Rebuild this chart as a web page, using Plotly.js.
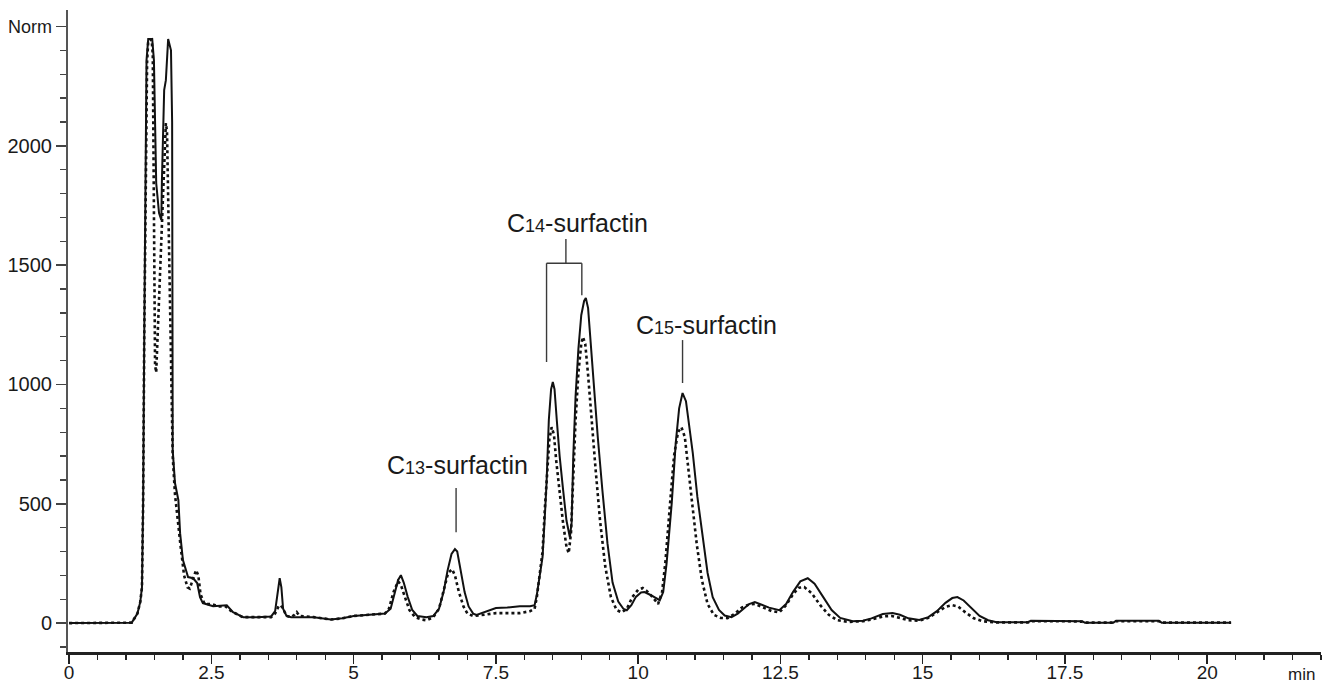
<!DOCTYPE html>
<html>
<head>
<meta charset="utf-8">
<script src="https://cdn.plot.ly/plotly-3.0.1.min.js"></script>
<style>html,body{margin:0;padding:0;background:#fff;}#chart{width:1330px;height:684px;}</style>
</head>
<body>
<div id="chart"></div>
<script>
// Retention time (min) and normalised signal for the solid trace
const solidTime = [0,0.5,1.0,1.1,1.2,1.25,1.28,1.30,1.32,1.34,1.36,1.39,1.46,1.49,1.53,1.58,1.62,1.63,1.67,1.70,1.74,1.79,1.81,1.82,1.86,1.92,1.95,2.00,2.09,2.18,2.25,2.30,2.35,2.53,2.77,2.88,3.06,3.3,3.55,3.62,3.66,3.70,3.73,3.76,3.82,3.9,4.0,4.3,4.6,4.8,5.0,5.3,5.55,5.65,5.72,5.78,5.83,5.88,5.95,6.03,6.12,6.28,6.4,6.5,6.58,6.65,6.72,6.78,6.82,6.88,6.95,7.02,7.1,7.16,7.3,7.5,7.7,7.92,8.1,8.18,8.22,8.27,8.32,8.36,8.39,8.43,8.47,8.50,8.53,8.57,8.62,8.68,8.74,8.80,8.83,8.86,8.90,8.95,9.00,9.05,9.08,9.12,9.17,9.23,9.29,9.37,9.46,9.55,9.65,9.74,9.80,9.88,9.96,10.05,10.11,10.2,10.3,10.38,10.44,10.50,10.59,10.66,10.72,10.78,10.84,10.90,10.96,11.04,11.13,11.22,11.31,11.42,11.52,11.64,11.75,11.85,11.95,12.05,12.15,12.3,12.48,12.6,12.72,12.85,12.98,13.1,13.25,13.4,13.55,13.77,13.95,14.1,14.3,14.47,14.6,14.75,14.94,15.1,15.25,15.4,15.52,15.61,15.72,15.85,16.0,16.15,16.3,16.5,16.85,16.9,17.5,17.8,17.85,18.35,18.4,19.15,19.2,20.42];
const solidSignal = [0,0,0,2,40,89,150,500,1200,1900,2359,2447,2447,2359,1844,1718,1689,1848,2233,2275,2447,2400,2099,725,587,515,377,264,193,188,168,109,84,71,75,46,25,25,28,50,120,188,150,60,30,25,25,25,15,20,30,35,40,60,120,180,201,170,110,55,30,25,30,60,130,220,290,310,300,220,130,70,40,34,45,63,65,71,71,75,120,200,277,450,587,851,980,1010,980,850,700,560,430,360,420,700,950,1150,1290,1350,1362,1320,1150,960,780,560,335,170,90,60,54,75,110,128,130,120,105,96,130,251,503,754,900,964,930,830,712,530,360,210,109,55,32,25,40,62,80,88,80,65,54,80,130,175,188,165,110,55,22,8,10,20,38,42,35,20,13,25,50,85,105,109,95,65,30,12,4,4,4,10,10,8,2,2,10,10,2,2];

// Retention time (min) and normalised signal for the dotted trace
const dottedTime = [0,1.0,1.1,1.2,1.25,1.28,1.30,1.32,1.35,1.37,1.39,1.45,1.47,1.48,1.49,1.50,1.51,1.53,1.56,1.60,1.64,1.68,1.70,1.72,1.74,1.76,1.79,1.82,1.86,1.90,1.96,2.02,2.08,2.12,2.18,2.23,2.27,2.31,2.38,2.5,2.62,2.75,2.85,3.05,3.3,3.55,3.62,3.68,3.72,3.76,3.82,3.9,3.96,4.0,4.05,4.3,4.6,4.8,5.0,5.3,5.55,5.62,5.70,5.78,5.83,5.90,5.98,6.08,6.2,6.28,6.4,6.5,6.58,6.66,6.73,6.78,6.85,6.93,7.0,7.1,7.3,7.5,7.7,7.92,8.1,8.18,8.22,8.27,8.32,8.36,8.40,8.44,8.48,8.52,8.56,8.62,8.68,8.74,8.78,8.82,8.86,8.90,8.95,9.00,9.03,9.07,9.12,9.18,9.25,9.33,9.42,9.52,9.62,9.71,9.80,9.9,10.0,10.08,10.15,10.25,10.35,10.42,10.48,10.56,10.63,10.70,10.76,10.82,10.88,10.95,11.03,11.12,11.22,11.33,11.45,11.57,11.7,11.82,11.95,12.05,12.2,12.35,12.48,12.6,12.72,12.82,12.92,13.05,13.2,13.35,13.5,13.7,13.95,14.1,14.3,14.45,14.6,14.75,14.94,15.1,15.25,15.4,15.52,15.62,15.75,15.9,16.05,16.3,16.85,16.9,17.5,17.8,17.85,18.35,18.4,19.15,19.2,20.42];
const dottedSignal = [0,0,2,40,89,150,500,1200,2050,2350,2440,2445,2380,2100,1700,1300,1080,1050,1250,1500,1780,2000,2095,2060,1800,1400,1000,700,540,440,320,200,150,145,190,222,200,120,80,80,70,70,50,25,25,25,40,70,75,60,30,25,35,46,30,25,15,20,30,35,40,60,130,175,160,110,55,25,15,12,25,60,140,210,226,200,130,70,40,30,35,42,42,42,50,60,110,200,300,480,650,770,821,790,680,540,420,320,293,380,620,850,1050,1170,1199,1170,1040,850,650,430,240,110,55,45,60,110,140,147,135,110,80,130,260,500,700,800,821,780,660,500,330,180,80,35,22,21,40,65,78,80,65,50,45,75,120,148,151,125,75,35,12,5,8,15,28,30,22,12,10,22,45,68,75,70,45,20,8,3,3,8,8,6,2,2,8,8,2,2];

// Axis ticks
const xTickVals = [0,2.5,5,7.5,10,12.5,15,17.5,20];
const xTickText = ['0','2.5','5','7.5','10','12.5','15','17.5','20'];
const yTickVals = [0,500,1000,1500,2000,2500];
const yTickText = ['0','500','1000','1500','2000','<span style="font-size:18px">Norm</span>'];

const FONT = 'Liberation Sans, Arial, Helvetica, sans-serif';
const lineCol = '#3a3a3a';

const traces = [
  {x: solidTime, y: solidSignal, type: 'scatter', mode: 'lines',
   line: {color: '#111', width: 2, shape: 'linear'}, hoverinfo: 'skip', showlegend: false},
  {x: dottedTime, y: dottedSignal, type: 'scatter', mode: 'lines',
   line: {color: '#111', width: 2.6, dash: 'dot'}, hoverinfo: 'skip', showlegend: false}
];

const seg = (x0, y0, x1, y1) => ({type: 'line', xref: 'x', yref: 'y', x0, y0, x1, y1,
  line: {color: lineCol, width: 1.4}});

const layout = {
  width: 1330, height: 684,
  margin: {l: 68, r: 9, t: 10, b: 32, pad: 0},
  paper_bgcolor: '#fff', plot_bgcolor: '#fff',
  font: {family: FONT, color: '#1a1a1a', size: 20},
  xaxis: {
    range: [-0.02, 22], showgrid: false, zeroline: false,
    showline: true, linecolor: '#222', linewidth: 2.5,
    ticks: 'outside', ticklen: 9, tickwidth: 1.5, tickcolor: '#222',
    tickvals: xTickVals, ticktext: xTickText, ticklabelstandoff: -7,
    tickfont: {family: FONT, size: 19, color: '#1a1a1a'},
    minor: {dtick: 0.5, tick0: 0, ticks: 'outside', ticklen: 5, tickwidth: 1.3, tickcolor: '#222', showgrid: false}
  },
  yaxis: {
    range: [-121, 2569], showgrid: false, zeroline: false,
    showline: true, linecolor: '#555', linewidth: 2,
    ticks: 'outside', ticklen: 10, tickwidth: 1.5, tickcolor: '#444',
    tickvals: yTickVals, ticktext: yTickText,
    tickfont: {family: FONT, size: 20, color: '#1a1a1a'},
    minor: {dtick: 100, tick0: 0, ticks: 'outside', ticklen: 6, tickwidth: 1.3, tickcolor: '#444', showgrid: false}
  },
  shapes: [
    seg(6.80, 566, 6.80, 381),
    seg(8.73, 1609, 8.73, 1508),
    seg(8.39, 1508, 9.01, 1508),
    seg(8.39, 1508, 8.39, 1094),
    seg(9.01, 1508, 9.01, 1374),
    seg(10.78, 1186, 10.78, 1006)
  ],
  annotations: [
    {x: 6.82, y: 662, xref: 'x', yref: 'y', showarrow: false,
     text: 'C<span style="font-size:18px">13</span>-surfactin', font: {family: FONT, size: 25, color: '#1a1a1a'}},
    {x: 8.93, y: 1676, xref: 'x', yref: 'y', showarrow: false,
     text: 'C<span style="font-size:18px">14</span>-surfactin', font: {family: FONT, size: 25, color: '#1a1a1a'}},
    {x: 11.20, y: 1249, xref: 'x', yref: 'y', showarrow: false,
     text: 'C<span style="font-size:18px">15</span>-surfactin', font: {family: FONT, size: 25, color: '#1a1a1a'}},
    {x: 1, y: 0, xref: 'paper', yref: 'paper', xanchor: 'right', yanchor: 'middle',
     xshift: -4, yshift: -22, showarrow: false, text: 'min',
     font: {family: FONT, size: 17, color: '#1a1a1a'}}
  ]
};

Plotly.newPlot('chart', traces, layout, {staticPlot: true, displayModeBar: false});
</script>
</body>
</html>
